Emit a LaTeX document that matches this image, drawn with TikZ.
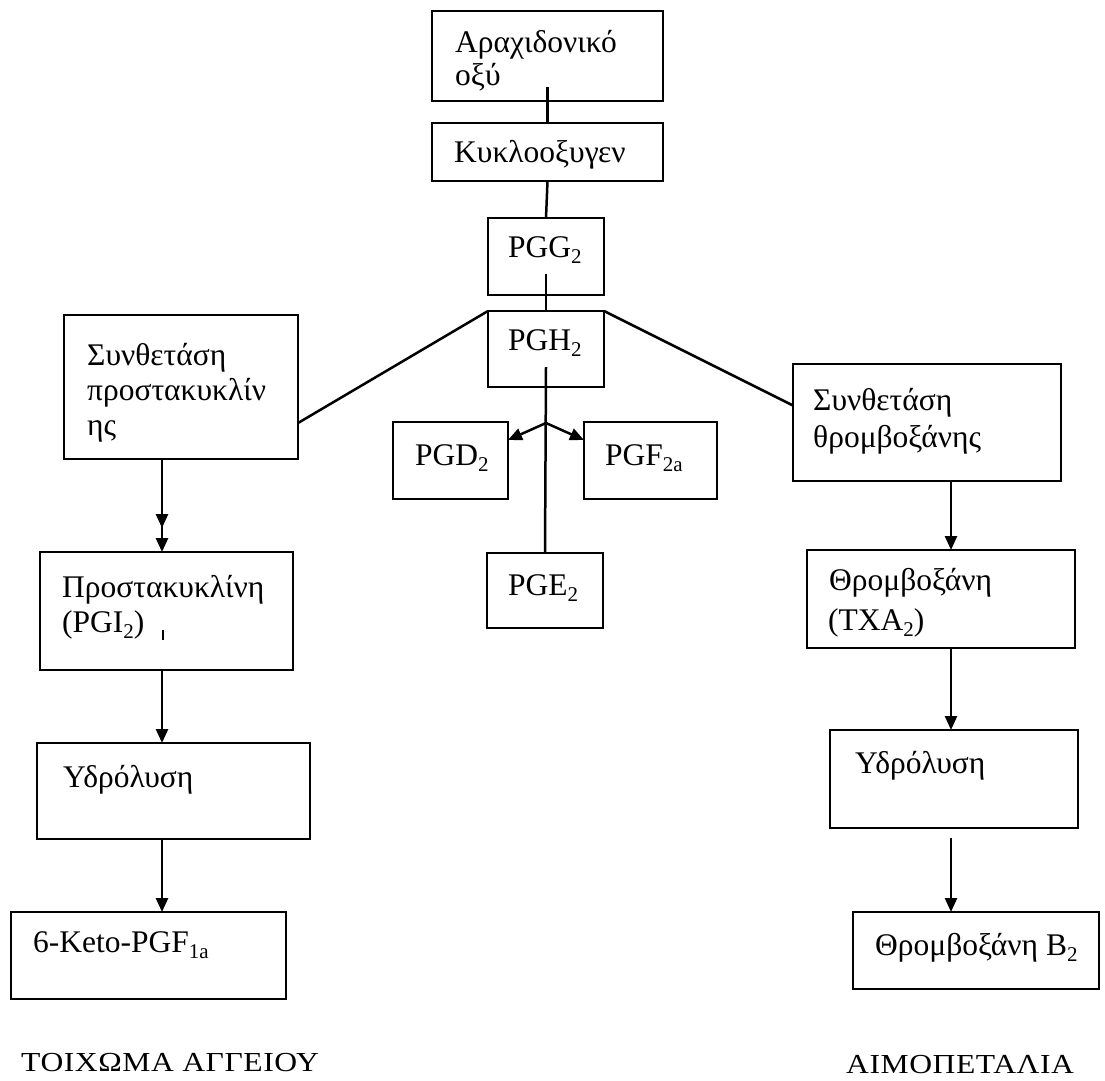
\documentclass[tikz,border=0pt]{standalone}
\usepackage{fontspec}
\setmainfont{Liberation Serif}
\usetikzlibrary{arrows.meta}
\newcommand\sbs[1]{\raisebox{-0.22em}{\fontsize{21}{21}\selectfont #1}}
\begin{document}
\begin{tikzpicture}[x=1pt,y=-1pt,
  box/.style={draw, line width=2.5pt, inner sep=0pt, outer sep=0pt},
  txt/.style={anchor=base west, inner sep=0pt, font=\fontsize{31.5}{36}\selectfont},
  lbl/.style={anchor=base west, inner sep=0pt, font=\fontsize{27.5}{32}\selectfont\addfontfeatures{FakeStretch=1.15,LetterSpace=2}},
  ln/.style={line width=2.5pt},
  arr/.style={line width=2.5pt, -{Triangle[length=14pt,width=12pt]}},
  darr/.style={line width=2.5pt, -{Triangle[length=14pt,width=12pt,sep=10pt]Triangle[length=14pt,width=12pt]}}
]
\fill[white] (0,0) rectangle (1105,1080);
\useasboundingbox (0,0) rectangle (1105,1080);
% boxes
\node[box, minimum width=231pt, minimum height=90pt] (arach) at (547.5,56) {};
\node[box, minimum width=231pt, minimum height=58pt] (cox) at (547.5,152) {};
\node[box, minimum width=116pt, minimum height=77pt] (pgg) at (546,256.5) {};
\node[box, minimum width=116pt, minimum height=76pt] (pgh) at (546,349) {};
\node[box, minimum width=115pt, minimum height=77pt] (pgd) at (450.5,460.5) {};
\node[box, minimum width=133pt, minimum height=77pt] (pgf) at (650.5,460.5) {};
\node[box, minimum width=116pt, minimum height=75pt] (pge) at (545,590.5) {};
\node[box, minimum width=234pt, minimum height=144pt] (synP) at (181,387) {};
\node[box, minimum width=253pt, minimum height=118pt] (prost) at (166.5,611) {};
\node[box, minimum width=273pt, minimum height=96pt] (hydL) at (173.5,791) {};
\node[box, minimum width=275pt, minimum height=87pt] (keto) at (148.5,955.5) {};
\node[box, minimum width=268pt, minimum height=117pt] (synT) at (927,422.5) {};
\node[box, minimum width=268pt, minimum height=98pt] (txa) at (941,599) {};
\node[box, minimum width=248pt, minimum height=98pt] (hydR) at (954,779) {};
\node[box, minimum width=246pt, minimum height=77pt] (b2) at (976,950.5) {};
% texts
\node[txt] (t1a) at (455,52) {Αραχιδονικό};
\node[txt] (t1b) at (455,85) {οξύ};
\node[txt] (t2) at (454,162) {Κυκλοοξυγεν};
\node[txt] (t3) at (508,257) {PGG\sbs{2}};
\node[txt] (t4) at (508,350) {PGH\sbs{2}};
\node[txt] (t5) at (415,465) {PGD\sbs{2}};
\node[txt] (t6) at (605,465) {PGF\sbs{2a}};
\node[txt] (t7) at (508,595) {PGE\sbs{2}};
\node[txt] (t8a) at (87,365) {Συνθετάση};
\node[txt] (t8b) at (87,400) {προστακυκλίν};
\node[txt] (t8c) at (87,435) {ης};
\node[txt] (t9a) at (62,597) {Προστακυκλίνη};
\node[txt] (t9b) at (62,632) {(PGI\sbs{2})};
\node[txt] (t10) at (63,787) {Υδρόλυση};
\node[txt] (t11) at (33,952) {6-Keto-PGF\sbs{1a}};
\node[txt] (t12a) at (813,410) {Συνθετάση};
\node[txt] (t12b) at (813,447) {θρομβοξάνης};
\node[txt] (t13a) at (829,590) {Θρομβοξάνη};
\node[txt] (t13b) at (828,630) {(TXA\sbs{2})};
\node[txt] (t14) at (855,773) {Υδρόλυση};
\node[txt] (t15) at (875,955) {Θρομβοξάνη B\sbs{2}};
\node[lbl] (l1) at (21,1071) {ΤΟΙΧΩΜΑ ΑΓΓΕΙΟΥ};
\node[lbl] (l2) at (846,1073) {ΑΙΜΟΠΕΤΑΛΙΑ};
% stray tick
\coordinate (tk1) at (163,630);
\coordinate (tk2) at (163,640);
\draw[line width=1.8pt] (tk1) -- (tk2);
% column coordinates
\coordinate (colL) at (162,0);
\coordinate (colR) at (951,0);
\coordinate (br) at (546,423);
% connectors
\draw[ln] ([yshift=14pt]arach.south) -- (cox.north);
\draw[ln] (cox.south) -- (pgg.north);
\draw[ln] ([yshift=21pt]pgg.south) -- (pgh.north);
\draw[ln] ([yshift=20pt]pgh.south) -- (pge.north);
\draw[ln] (pgh.north west) -- ([yshift=-36pt]synP.east);
\draw[ln] (pgh.north east) -- ([yshift=17pt]synT.west);
\draw[arr] (br) -- ([yshift=-18pt]pgd.north east);
\draw[arr] (br) -- ([yshift=-18pt]pgf.north west);
\draw[darr] (synP.south -| colL) -- (prost.north -| colL);
\draw[arr] (prost.south -| colL) -- (hydL.north -| colL);
\draw[arr] (hydL.south -| colL) -- (keto.north -| colL);
\draw[arr] (synT.south -| colR) -- (txa.north -| colR);
\draw[arr] (txa.south -| colR) -- (hydR.north -| colR);
\draw[arr] ([yshift=-10pt]hydR.south -| colR) -- (b2.north -| colR);
\end{tikzpicture}
\end{document}
